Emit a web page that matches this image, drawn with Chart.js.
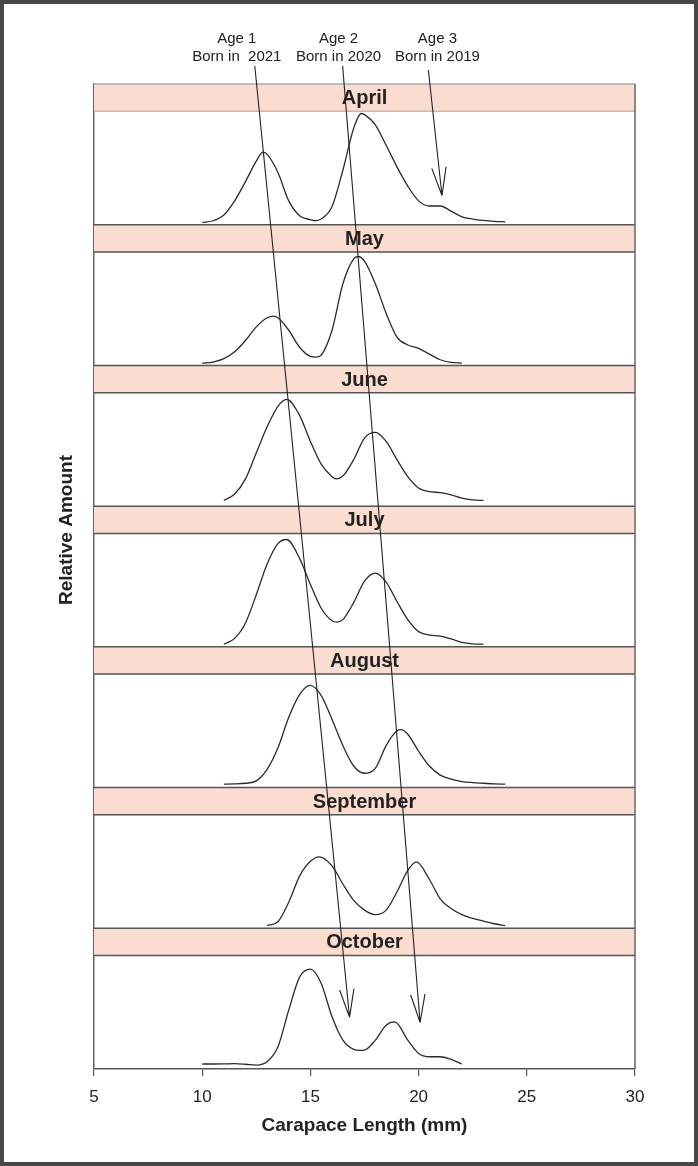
<!DOCTYPE html>
<html>
<head>
<meta charset="utf-8">
<script src="https://cdn.jsdelivr.net/npm/chart.js@4.4.1/dist/chart.umd.min.js"></script>
<style>
  html, body { margin: 0; padding: 0; background: #fff; }
  #marco { width: 698px; height: 1166px; box-sizing: border-box; border: 4px solid #474747; background: #fff; }
  #marco canvas { display: block; }
</style>
</head>
<body>
<div id="marco"><canvas id="grafico"></canvas></div>
<script>
// Datos (longitud del caparazon en mm, cantidad relativa 0-100)
const months = ['April', 'May', 'June', 'July', 'August', 'September', 'October'];

const aprilLength = [10, 10.5, 11, 11.5, 12, 12.5, 12.8, 13, 13.5, 14, 14.5, 15, 15.2, 15.5, 16, 16.5, 17, 17.35, 17.5, 18, 18.5, 19, 19.5, 20, 20.5, 21, 21.5, 22, 22.5, 23, 23.5, 24];
const aprilAmount = [2, 3.5, 8.5, 21, 38, 56, 64, 62, 46, 21, 8, 4.4, 3.5, 5, 16, 48, 85, 98, 97, 88, 70, 51, 34, 21, 16.5, 16.5, 12, 7, 5, 3.8, 3, 2.5];

const mayLength = [10, 10.5, 11, 11.5, 12, 12.5, 13, 13.3, 13.5, 14, 14.5, 15, 15.3, 15.5, 16, 16.5, 17, 17.2, 17.5, 18, 18.5, 19, 19.5, 20, 20.5, 21, 21.5, 22];
const mayAmount = [2, 3, 6, 12, 22, 34, 42, 43.5, 42, 31, 16, 8, 7.4, 9, 31, 72, 94, 96, 92, 72, 46, 25, 18, 15, 10, 5, 2.7, 2];

const juneLength = [11, 11.5, 12, 12.5, 13, 13.5, 13.9, 14.5, 15, 15.5, 16, 16.2, 16.5, 17, 17.5, 18, 18.5, 19, 19.5, 20, 20.5, 21, 21.5, 22, 22.5, 23];
const juneAmount = [5, 10.7, 24, 47, 70, 88, 94, 80, 57, 37, 26, 24, 26.5, 41, 60, 65, 57, 41, 26, 16, 12.7, 12, 10, 7, 5.5, 5];

const julyLength = [11, 11.5, 12, 12.5, 13, 13.5, 13.9, 14.5, 15, 15.5, 16, 16.2, 16.5, 17, 17.5, 18, 18.5, 19, 19.5, 20, 20.5, 21, 21.5, 22, 22.5, 23];
const julyAmount = [2.4, 7.5, 21, 46, 73, 91, 94.6, 78, 55, 34, 23, 21.8, 24, 39, 58, 65, 57, 40, 24, 13.4, 10.4, 9.5, 7, 4, 2.7, 2.4];

const augustLength = [11, 11.5, 12, 12.5, 13, 13.5, 14, 14.5, 15, 15.5, 16, 16.5, 17, 17.5, 18, 18.5, 19, 19.2, 19.5, 20, 20.5, 21, 21.5, 22, 22.5, 23, 23.5, 24];
const augustAmount = [3, 3.2, 3.8, 5.9, 16, 35, 62, 82, 90, 81, 60, 37, 19, 12.6, 17, 37, 50, 51, 47, 32, 19, 11, 7.4, 5.3, 4.4, 3.8, 3.2, 3];

const septemberLength = [13, 13.5, 14, 14.5, 15, 15.4, 16, 16.5, 17, 17.5, 18, 18.5, 19, 19.5, 19.9, 20.5, 21, 21.5, 22, 22.5, 23, 23.5, 24];
const septemberAmount = [2.3, 5.8, 23, 46, 59, 63, 55, 39, 24.6, 16, 12, 16, 32, 51, 58.5, 43, 26, 17.4, 12, 8.7, 6.4, 4, 2.3];

const octoberLength = [10, 10.5, 11, 11.5, 12, 12.5, 13, 13.5, 14, 14.5, 15, 15.5, 16, 16.5, 17, 17.3, 17.5, 18, 18.5, 18.9, 19.5, 20, 20.5, 21, 21.5, 22];
const octoberAmount = [4.4, 4.4, 4.5, 4.7, 4.2, 3.5, 6.4, 19.6, 52, 81, 88, 75.4, 46, 25.4, 17.3, 16.5, 16.7, 25.4, 38.6, 41.5, 25.4, 13.7, 10.8, 10.8, 8.5, 4.4];

const lengths = [aprilLength, mayLength, juneLength, julyLength, augustLength, septemberLength, octoberLength];
const amounts = [aprilAmount, mayAmount, juneAmount, julyAmount, augustAmount, septemberAmount, octoberAmount];

const xTicks = [5, 10, 15, 20, 25, 30];

// Flechas de cohortes
const ageLabels = [['Age 1', 'Born in  2021'], ['Age 2', 'Born in 2020'], ['Age 3', 'Born in 2019']];
const ageLabelAt = [11.6, 16.3, 20.87];
const arrowFrom = [12.43, 16.49, 20.45];
const arrowTo = [16.81, 20.07, 21.08];
const arrowToMonth = ['October', 'October', 'April'];
const arrowToAmount = [45.6, 41, 25.7];

const NARROW = "'Liberation Sans Narrow', 'Arial Narrow', 'Liberation Sans', Arial, sans-serif";
const SANS = "'Liberation Sans', Arial, sans-serif";

// Ejes apilados, uno por mes (el primero definido queda abajo)
const scales = {
  x: {
    type: 'linear', min: 5, max: 30,
    afterBuildTicks: s => { s.ticks = xTicks.map(v => ({ value: v })); },
    afterFit: s => { s.height = 93; },
    ticks: { color: '#222', font: { family: SANS, size: 17 }, padding: 11 },
    grid: { drawOnChartArea: false, drawTicks: true, tickLength: 7, color: '#555', lineWidth: 1.2 },
    border: { color: '#555', width: 1.5 },
    title: { display: true, text: 'Carapace Length (mm)', color: '#222',
      font: { family: SANS, size: 19, weight: 'bold' }, padding: { top: 0, bottom: 25 } }
  }
};
months.slice().reverse().forEach(m => {
  scales[m] = {
    type: 'linear', position: 'left', stack: 'meses', stackWeight: 1,
    min: 0, max: 124,
    afterFit: s => { s.width = 0; },
    ticks: { display: false },
    grid: { display: false },
    border: { color: '#666', width: 1.5 }
  };
});

const panelPlugin = {
  id: 'paneles',
  beforeDatasetsDraw(chart) {
    const ctx = chart.ctx;
    const { left, right, top, bottom } = chart.chartArea;
    ctx.save();
    months.forEach((m, i) => {
      const s = chart.scales[m];
      const hb = s.getPixelForValue(100);
      ctx.fillStyle = '#fbdcd1';
      ctx.fillRect(left, s.top, right - left, hb - s.top);
      ctx.strokeStyle = i === 0 ? '#a8a8a8' : '#555';
      ctx.lineWidth = 1.5;
      ctx.beginPath();
      ctx.moveTo(left, s.top); ctx.lineTo(right, s.top);
      ctx.stroke();
      ctx.strokeStyle = i === 0 ? '#cdb6ae' : '#555';
      ctx.beginPath();
      ctx.moveTo(left, hb); ctx.lineTo(right, hb);
      ctx.stroke();
      ctx.fillStyle = '#222';
      ctx.font = 'bold 20px ' + SANS;
      ctx.textAlign = 'center';
      ctx.textBaseline = 'middle';
      ctx.fillText(m, (left + right) / 2, (s.top + hb) / 2 + 1);
    });
    ctx.strokeStyle = '#666';
    ctx.lineWidth = 1.5;
    ctx.beginPath();
    ctx.moveTo(right, top); ctx.lineTo(right, bottom);
    ctx.stroke();
    ctx.restore();
  },
  afterDatasetsDraw(chart) {
    const ctx = chart.ctx;
    const x = chart.scales.x;
    const top = chart.chartArea.top;
    ctx.save();
    // etiquetas de edad
    ctx.fillStyle = '#222';
    ctx.font = '15px ' + NARROW;
    ctx.textAlign = 'center';
    ctx.textBaseline = 'middle';
    ageLabels.forEach((lines, i) => {
      ctx.fillText(lines[0], x.getPixelForValue(ageLabelAt[i]), top - 45);
      ctx.fillText(lines[1], x.getPixelForValue(ageLabelAt[i]), top - 27);
    });
    // flechas
    ctx.strokeStyle = '#222';
    ctx.lineWidth = 1.1;
    arrowFrom.forEach((a, i) => {
      const x0 = x.getPixelForValue(a);
      const y0 = top - (i === 2 ? 14 : 18);
      const x1 = x.getPixelForValue(arrowTo[i]);
      const y1 = chart.scales[arrowToMonth[i]].getPixelForValue(arrowToAmount[i]);
      const ang = Math.atan2(y0 - y1, x0 - x1);
      ctx.beginPath();
      ctx.moveTo(x0, y0); ctx.lineTo(x1, y1);
      [-0.25, 0.25].forEach(d => {
        ctx.moveTo(x1, y1);
        ctx.lineTo(x1 + 29 * Math.cos(ang + d), y1 + 29 * Math.sin(ang + d));
      });
      ctx.stroke();
    });
    // titulo del eje y
    ctx.translate(chart.chartArea.left - 27, 526);
    ctx.rotate(-Math.PI / 2);
    ctx.font = 'bold 19px ' + SANS;
    ctx.fillText('Relative Amount', 0, 0);
    ctx.restore();
  }
};

const ctx = document.getElementById('grafico').getContext('2d');
const grafico = new Chart(ctx, {
  type: 'line',
  data: {
    datasets: months.map((m, i) => ({
      label: m,
      yAxisID: m,
      data: lengths[i].map((v, j) => ({ x: v, y: amounts[i][j] })),
      borderColor: '#2b2b2b',
      borderWidth: 1.3,
      pointRadius: 0,
      fill: false,
      cubicInterpolationMode: 'monotone'
    }))
  },
  options: {
    responsive: true,
    maintainAspectRatio: false,
    animation: false,
    devicePixelRatio: 1,
    layout: { padding: { left: 90, right: 59, top: 80, bottom: 0 } },
    plugins: { legend: { display: false }, tooltip: { enabled: false } },
    scales: scales
  },
  plugins: [panelPlugin]
});
</script>
</body>
</html>
